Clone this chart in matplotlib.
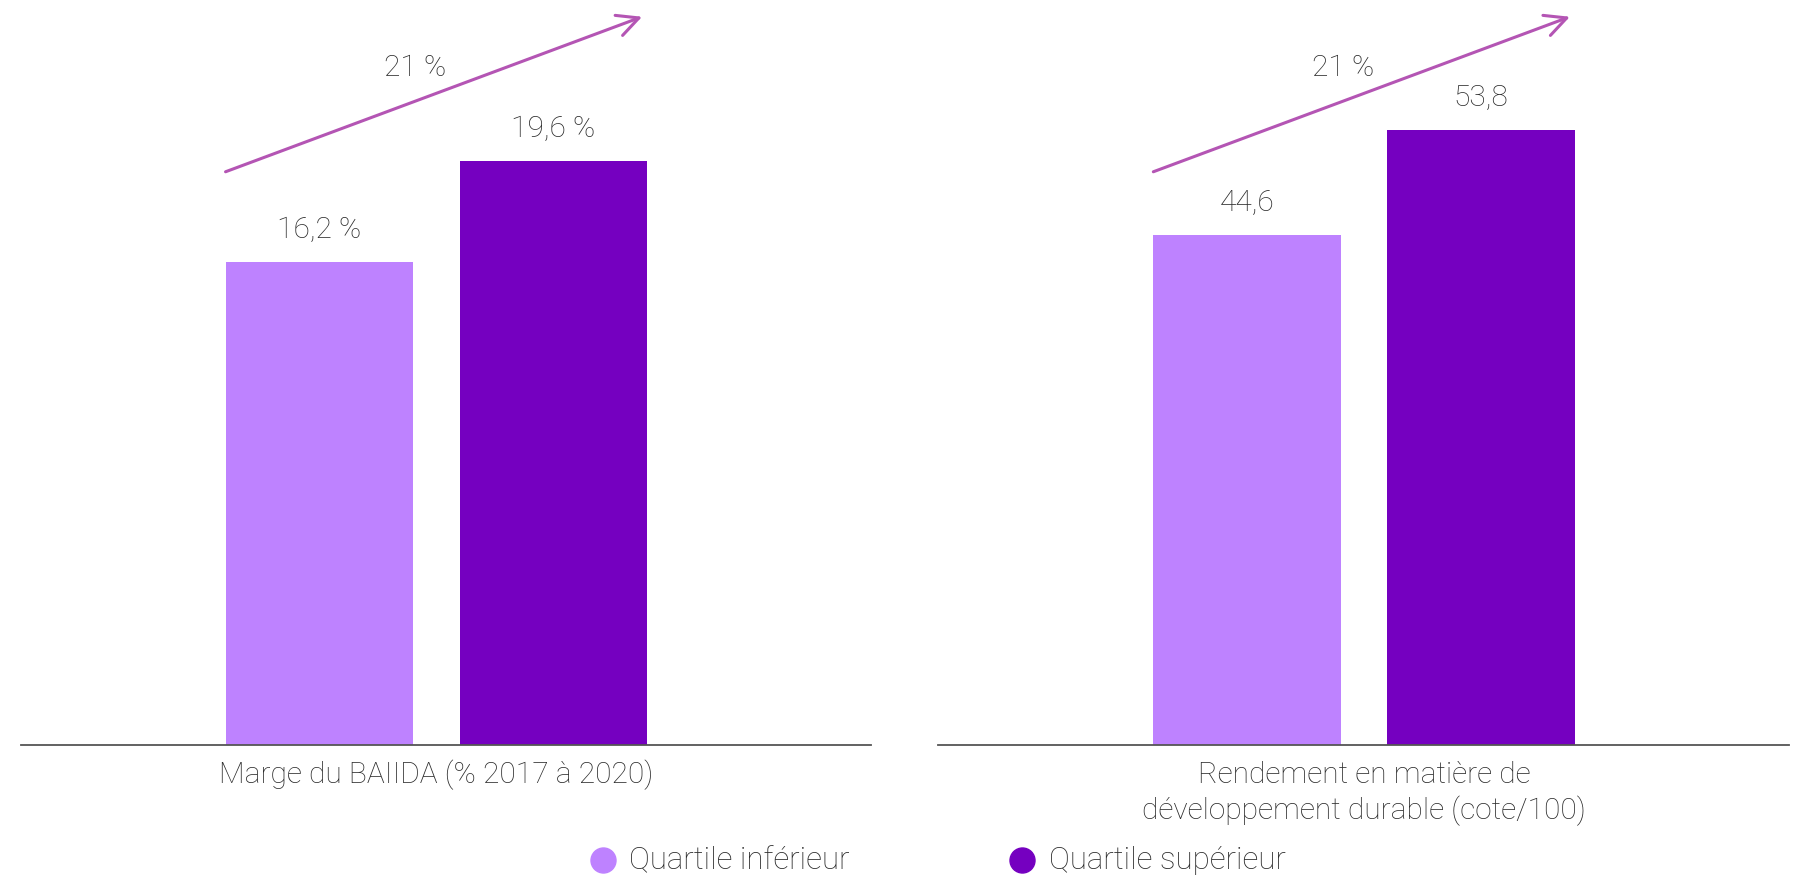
import matplotlib.pyplot as plt
from matplotlib.lines import Line2D
from matplotlib.transforms import blended_transform_factory

plt.rcParams['font.family'] = ['Roboto', 'DejaVu Sans']

# Data
groups = ["Quartile inférieur", "Quartile supérieur"]
ebitda_margin = [16.2, 19.6]
ebitda_labels = ["16,2 %", "19,6 %"]
sustain_score = [44.6, 53.8]
sustain_labels = ["44,6", "53,8"]
growth_labels = ["21 %", "21 %"]
titles = [["Marge du BAIIDA (% 2017 à 2020)"],
          ["Rendement en matière de", "développement durable (cote/100)"]]

light = "#BE82FF"
dark = "#7500C0"
arrow_c = "#B455B4"
text_c = "#2b2b2b"

W, H = 1798, 879
fig = plt.figure(figsize=(W / 100, H / 100 + 0.004), dpi=100)
fig.patch.set_facecolor("white")

ax1 = fig.add_axes([21 / W, 134 / H, 850 / W, 745 / H])
ax2 = fig.add_axes([938 / W, 134 / H, 851 / W, 745 / H])

panels = [
    (ax1, ebitda_margin, ebitda_labels, (-1.274, 2.358), 25.0),
    (ax2, sustain_score, sustain_labels, (-1.32, 2.316), 65.2),
]

for i, (ax, vals, labs, xlim, ytop) in enumerate(panels):
    bars = ax.bar([0, 1], vals, width=0.8, color=[light, dark])
    ax.set_xlim(*xlim)
    ax.set_ylim(0, ytop)
    for b, lab in zip(bars, labs):
        ax.annotate(lab, (b.get_x() + b.get_width() / 2, b.get_height()),
                    xytext=(0, 13), textcoords="offset points",
                    ha="center", va="bottom", fontsize=21.5, color=text_c,
                    fontweight="light")
    for s in ["top", "right", "left"]:
        ax.spines[s].set_visible(False)
    ax.spines["bottom"].set_color("#555555")
    ax.spines["bottom"].set_linewidth(1.3)
    ax.set_xticks([])
    ax.set_yticks([])
    ax.patch.set_alpha(0)

    # growth arrow between the two quartiles
    tr = blended_transform_factory(ax.transData, ax.transAxes)
    ax.annotate("", xy=(1.38, 0.977), xycoords=tr,
                xytext=(-0.4, 0.769), textcoords=tr,
                arrowprops=dict(arrowstyle="->,head_length=0.7,head_width=0.35",
                                color=arrow_c, lw=2.2, mutation_scale=22,
                                shrinkA=0, shrinkB=0))
    ax.text(0.41, 0.909, growth_labels[i], transform=tr, ha="center",
            va="center", fontsize=21.5, color=text_c, fontweight="light")

    # category caption, one baseline per line
    for k, line in enumerate(titles[i]):
        ax.text(0.5, -(38 + 36 * k) / 745, line, transform=tr, ha="center",
                va="baseline", fontsize=21.5, color=text_c, fontweight="light")

# legend placed by hand under the two panels
legend_x = [(603, 629), (1022, 1049)]
legend_y = 1 - 860 / H
for (cx, tx), name, c in zip(legend_x, groups, (light, dark)):
    fig.add_artist(Line2D([cx / W], [legend_y], marker="o", ls="",
                          markersize=18, color=c, transform=fig.transFigure))
    fig.text(tx / W, legend_y, name, ha="left", va="center", fontsize=22.5,
             color=text_c, fontweight="light")

fig.savefig("out.png", dpi=100)
